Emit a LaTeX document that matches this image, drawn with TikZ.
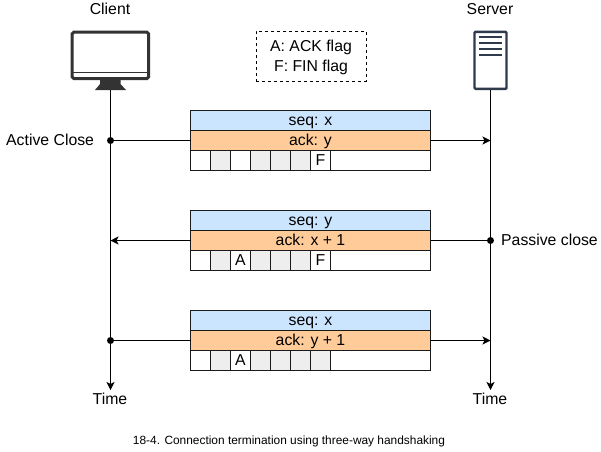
\documentclass[tikz,border=0pt]{standalone}
\usepackage{fontspec}
\setmainfont{Liberation Sans}
\usetikzlibrary{arrows.meta}
\definecolor{seqc}{HTML}{CCE5FF}
\definecolor{ackc}{HTML}{FFCC99}
\definecolor{cellgc}{HTML}{EEEEEE}
\definecolor{linec}{HTML}{1A1A1A}
\definecolor{iconc}{HTML}{333333}
\definecolor{srvc}{HTML}{2F3B4C}
\tikzset{
  x=1pt,y=-1pt,
  every node/.style={font=\fontsize{15.8}{18}\selectfont,text=black,inner sep=0pt,text height=13.2pt,text depth=3.2pt},
  row/.style={draw=linec,line width=1pt,minimum height=20pt,anchor=north west,outer sep=0pt},
  seqrow/.style={row,fill=seqc,minimum width=240pt},
  ackrow/.style={row,fill=ackc,minimum width=240pt},
  flagrow/.style={row,fill=white,minimum width=240pt},
  cellw/.style={row,fill=white,minimum width=20pt},
  cellg/.style={row,fill=cellgc,minimum width=20pt},
  life/.style={draw=black,line width=1pt,-{Stealth[length=8pt,width=8pt,inset=2pt]}},
  msg/.style={draw=black,line width=1pt,-{Stealth[length=8pt,width=8pt,inset=2pt]}},
  plainmsg/.style={draw=black,line width=1pt},
  dot/.style={circle,fill=black,minimum size=7pt,inner sep=0pt,text height=0pt,text depth=0pt},
}
\newcommand{\packet}[7]{%
  \node[flagrow] (#1f) at (190.5,#2+40) {};
  \node[seqrow] (#1s) at (190.5,#2) {#3};
  \node[ackrow] (#1a) at (190.5,#2+20) {#4};
  \node[cellw] (#1c1) at (190.5,#2+40) {};
  \node[cellg] (#1c2) at (210.5,#2+40) {};
  \node[cellw] (#1c3) at (230.5,#2+40) {#5};
  \node[cellg] (#1c4) at (250.5,#2+40) {};
  \node[cellg] (#1c5) at (270.5,#2+40) {};
  \node[cellg] (#1c6) at (290.5,#2+40) {};
  \node[#7] (#1c7) at (310.5,#2+40) {#6};
}
\begin{document}
\begin{tikzpicture}
\useasboundingbox (0,0) rectangle (601,451);
\fill[white] (0,0) rectangle (601,451);

% client icon
\node (clabel) at (110,9) {Client};
\draw[iconc,line width=3pt,rounded corners=1.5pt,fill=white] (72.2,32.2) rectangle (148.5,78.5);
\draw[iconc,line width=1.3pt] (72.2,72.2) -- (148.5,72.2);
\fill[iconc] (100,80) -- (120.5,80) -- (120.5,84) -- (126,90) -- (95,90) -- (100,84) -- cycle;
\coordinate (cbase) at (110.5,90);

% server icon
\node (slabel) at (490,9) {Server};
\draw[srvc,line width=2.4pt,rounded corners=1pt,fill=white] (474.5,31.9) rectangle (506.5,88.8);
\foreach \yy in {37.3,43.3,49.3,55.3} \draw[srvc,line width=1.8pt] (479,\yy) -- (501.7,\yy);
\coordinate (sbase) at (490.5,90);

% legend
\node[draw=black,dashed,line width=1pt,minimum width=110pt,minimum height=50pt,align=center,anchor=north west,font=\fontsize{15.8}{20}\selectfont,text height=,text depth=1.4pt] (legend) at (255.5,30.5) {A: ACK flag\\F: FIN flag};

% lifelines
\coordinate (cend) at (110.5,390);
\coordinate (send) at (490.5,390);
\draw[life] (cbase) -- (cend);
\draw[life] (sbase) -- (send);

% packets
\packet{p}{110.5}{seq: x}{ack: y}{}{F}{cellw}
\packet{q}{210.5}{seq: y}{ack: x + 1}{A}{F}{cellw}
\packet{r}{310.5}{seq: x}{ack: y + 1}{A}{}{cellg}

% message lines
\node[dot] (d1) at (110.5,140.5) {};
\coordinate (e1) at (490.5,140.5);
\draw[plainmsg] (d1.center) -- (pa.west);
\draw[msg] (pa.east) -- (e1);
\node[dot] (d2) at (490.5,240.5) {};
\coordinate (e2) at (110.5,240.5);
\draw[plainmsg] (d2.center) -- (qa.east);
\draw[msg] (qa.west) -- (e2);
\node[dot] (d3) at (110.5,340.5) {};
\coordinate (e3) at (490.5,340.5);
\draw[plainmsg] (d3.center) -- (ra.west);
\draw[msg] (ra.east) -- (e3);

% labels
\node[anchor=west] (ac) at (6,140) {Active Close};
\node[anchor=west] (pc) at (501,240) {Passive close};
\node (t1) at (110,399) {Time};
\node (t2) at (490,399) {Time};
\node[font=\fontsize{11.9}{14}\selectfont,text height=,text depth=] (cap) at (289,441.5) {18-4. Connection termination using three-way handshaking};
\end{tikzpicture}
\end{document}
